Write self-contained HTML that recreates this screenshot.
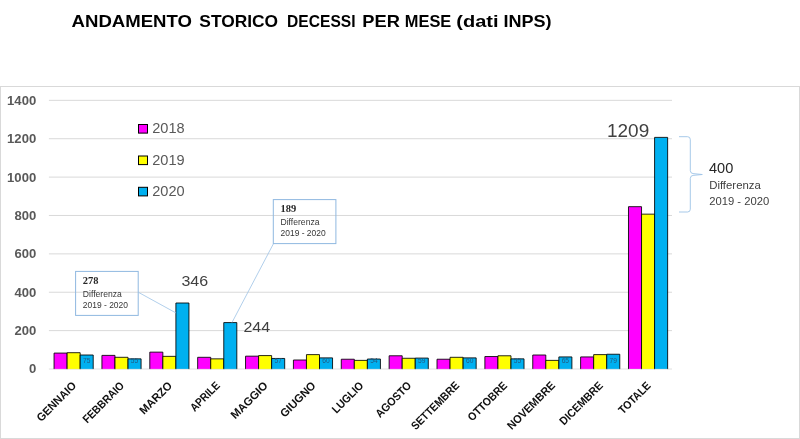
<!DOCTYPE html>
<html lang="it"><head><meta charset="utf-8"><title>Andamento storico decessi per mese</title>
<style>
html,body{margin:0;padding:0;background:#fff;}
body{width:800px;height:439px;overflow:hidden;font-family:"Liberation Sans",sans-serif;}
svg{display:block;}
text{font-family:"Liberation Sans",sans-serif;}
.ser{font-family:"Liberation Serif",serif;font-weight:bold;}
</style></head><body>
<svg width="800" height="439" viewBox="0 0 800 439">
<rect x="0" y="0" width="800" height="439" fill="#ffffff"/>

<text x="71.6" y="27.2" font-size="17.3" font-weight="bold" fill="#000" textLength="120.4" lengthAdjust="spacingAndGlyphs">ANDAMENTO</text>
<text x="199.3" y="27.2" font-size="17.3" font-weight="bold" fill="#000" textLength="78.8" lengthAdjust="spacingAndGlyphs">STORICO</text>
<text x="287.1" y="27.2" font-size="17.3" font-weight="bold" fill="#000" textLength="68.4" lengthAdjust="spacingAndGlyphs">DECESSI</text>
<text x="362.3" y="27.2" font-size="17.3" font-weight="bold" fill="#000" textLength="37.6" lengthAdjust="spacingAndGlyphs">PER</text>
<text x="404.8" y="27.2" font-size="17.3" font-weight="bold" fill="#000" textLength="46.5" lengthAdjust="spacingAndGlyphs">MESE</text>
<text x="456.3" y="27.2" font-size="17.3" font-weight="bold" fill="#000" textLength="42.3" lengthAdjust="spacingAndGlyphs">(dati</text>
<text x="503.5" y="27.2" font-size="17.3" font-weight="bold" fill="#000" textLength="48.1" lengthAdjust="spacingAndGlyphs">INPS)</text>
<rect x="0.5" y="86.5" width="799" height="352" fill="none" stroke="#d9d9d9" stroke-width="1"/>
<line x1="48.9" x2="672.0" y1="369.00" y2="369.00" stroke="#e6e6e6" stroke-width="1"/>
<text x="36.2" y="373.40" font-size="12.4" font-weight="bold" fill="#595959" text-anchor="end" textLength="7.3" lengthAdjust="spacingAndGlyphs">0</text>
<line x1="48.9" x2="672.0" y1="330.62" y2="330.62" stroke="#d9d9d9" stroke-width="1"/>
<text x="36.2" y="335.02" font-size="12.4" font-weight="bold" fill="#595959" text-anchor="end" textLength="21.8" lengthAdjust="spacingAndGlyphs">200</text>
<line x1="48.9" x2="672.0" y1="292.24" y2="292.24" stroke="#d9d9d9" stroke-width="1"/>
<text x="36.2" y="296.64" font-size="12.4" font-weight="bold" fill="#595959" text-anchor="end" textLength="21.8" lengthAdjust="spacingAndGlyphs">400</text>
<line x1="48.9" x2="672.0" y1="253.86" y2="253.86" stroke="#d9d9d9" stroke-width="1"/>
<text x="36.2" y="258.26" font-size="12.4" font-weight="bold" fill="#595959" text-anchor="end" textLength="21.8" lengthAdjust="spacingAndGlyphs">600</text>
<line x1="48.9" x2="672.0" y1="215.48" y2="215.48" stroke="#d9d9d9" stroke-width="1"/>
<text x="36.2" y="219.88" font-size="12.4" font-weight="bold" fill="#595959" text-anchor="end" textLength="21.8" lengthAdjust="spacingAndGlyphs">800</text>
<line x1="48.9" x2="672.0" y1="177.10" y2="177.10" stroke="#d9d9d9" stroke-width="1"/>
<text x="36.2" y="181.50" font-size="12.4" font-weight="bold" fill="#595959" text-anchor="end" textLength="29.1" lengthAdjust="spacingAndGlyphs">1000</text>
<line x1="48.9" x2="672.0" y1="138.72" y2="138.72" stroke="#d9d9d9" stroke-width="1"/>
<text x="36.2" y="143.12" font-size="12.4" font-weight="bold" fill="#595959" text-anchor="end" textLength="29.1" lengthAdjust="spacingAndGlyphs">1200</text>
<line x1="48.9" x2="672.0" y1="100.34" y2="100.34" stroke="#d9d9d9" stroke-width="1"/>
<text x="36.2" y="104.74" font-size="12.4" font-weight="bold" fill="#595959" text-anchor="end" textLength="29.1" lengthAdjust="spacingAndGlyphs">1400</text>
<path d="M54.06,369.10 V353.09 H67.11 V369.10" fill="#ff00ff" stroke="#000" stroke-width="0.85"/>
<path d="M67.11,369.10 V352.70 H80.16 V369.10" fill="#ffff00" stroke="#000" stroke-width="0.85"/>
<path d="M80.16,369.10 V355.01 H93.21 V369.10" fill="#00b0f0" stroke="#000" stroke-width="0.85"/>
<text x="86.68" y="363.1" font-size="7.2" fill="#215a80" text-anchor="middle" textLength="7.4" lengthAdjust="spacingAndGlyphs">75</text>
<path d="M101.93,369.10 V355.39 H114.98 V369.10" fill="#ff00ff" stroke="#000" stroke-width="0.85"/>
<path d="M114.98,369.10 V357.31 H128.03 V369.10" fill="#ffff00" stroke="#000" stroke-width="0.85"/>
<path d="M128.03,369.10 V358.85 H141.08 V369.10" fill="#00b0f0" stroke="#000" stroke-width="0.85"/>
<text x="134.55" y="363.1" font-size="7.2" fill="#215a80" text-anchor="middle" textLength="7.4" lengthAdjust="spacingAndGlyphs">55</text>
<path d="M149.80,369.10 V352.13 H162.85 V369.10" fill="#ff00ff" stroke="#000" stroke-width="0.85"/>
<path d="M162.85,369.10 V356.35 H175.90 V369.10" fill="#ffff00" stroke="#000" stroke-width="0.85"/>
<path d="M175.90,369.10 V303.00 H188.95 V369.10" fill="#00b0f0" stroke="#000" stroke-width="0.85"/>
<path d="M197.67,369.10 V357.31 H210.72 V369.10" fill="#ff00ff" stroke="#000" stroke-width="0.85"/>
<path d="M210.72,369.10 V358.85 H223.77 V369.10" fill="#ffff00" stroke="#000" stroke-width="0.85"/>
<path d="M223.77,369.10 V322.58 H236.82 V369.10" fill="#00b0f0" stroke="#000" stroke-width="0.85"/>
<path d="M245.54,369.10 V356.16 H258.59 V369.10" fill="#ff00ff" stroke="#000" stroke-width="0.85"/>
<path d="M258.59,369.10 V355.58 H271.64 V369.10" fill="#ffff00" stroke="#000" stroke-width="0.85"/>
<path d="M271.64,369.10 V358.46 H284.69 V369.10" fill="#00b0f0" stroke="#000" stroke-width="0.85"/>
<text x="278.16" y="363.1" font-size="7.2" fill="#215a80" text-anchor="middle" textLength="7.4" lengthAdjust="spacingAndGlyphs">57</text>
<path d="M293.41,369.10 V360.00 H306.46 V369.10" fill="#ff00ff" stroke="#000" stroke-width="0.85"/>
<path d="M306.46,369.10 V354.62 H319.51 V369.10" fill="#ffff00" stroke="#000" stroke-width="0.85"/>
<path d="M319.51,369.10 V357.89 H332.56 V369.10" fill="#00b0f0" stroke="#000" stroke-width="0.85"/>
<text x="326.03" y="363.1" font-size="7.2" fill="#215a80" text-anchor="middle" textLength="7.4" lengthAdjust="spacingAndGlyphs">60</text>
<path d="M341.27,369.10 V359.23 H354.32 V369.10" fill="#ff00ff" stroke="#000" stroke-width="0.85"/>
<path d="M354.32,369.10 V360.38 H367.38 V369.10" fill="#ffff00" stroke="#000" stroke-width="0.85"/>
<path d="M367.38,369.10 V359.04 H380.43 V369.10" fill="#00b0f0" stroke="#000" stroke-width="0.85"/>
<text x="373.90" y="363.1" font-size="7.2" fill="#215a80" text-anchor="middle" textLength="7.4" lengthAdjust="spacingAndGlyphs">54</text>
<path d="M389.14,369.10 V355.78 H402.19 V369.10" fill="#ff00ff" stroke="#000" stroke-width="0.85"/>
<path d="M402.19,369.10 V358.27 H415.24 V369.10" fill="#ffff00" stroke="#000" stroke-width="0.85"/>
<path d="M415.24,369.10 V358.08 H428.29 V369.10" fill="#00b0f0" stroke="#000" stroke-width="0.85"/>
<text x="421.77" y="363.1" font-size="7.2" fill="#215a80" text-anchor="middle" textLength="7.4" lengthAdjust="spacingAndGlyphs">59</text>
<path d="M437.01,369.10 V359.23 H450.06 V369.10" fill="#ff00ff" stroke="#000" stroke-width="0.85"/>
<path d="M450.06,369.10 V357.31 H463.11 V369.10" fill="#ffff00" stroke="#000" stroke-width="0.85"/>
<path d="M463.11,369.10 V357.89 H476.16 V369.10" fill="#00b0f0" stroke="#000" stroke-width="0.85"/>
<text x="469.64" y="363.1" font-size="7.2" fill="#215a80" text-anchor="middle" textLength="7.4" lengthAdjust="spacingAndGlyphs">60</text>
<path d="M484.88,369.10 V356.54 H497.93 V369.10" fill="#ff00ff" stroke="#000" stroke-width="0.85"/>
<path d="M497.93,369.10 V355.78 H510.98 V369.10" fill="#ffff00" stroke="#000" stroke-width="0.85"/>
<path d="M510.98,369.10 V358.85 H524.03 V369.10" fill="#00b0f0" stroke="#000" stroke-width="0.85"/>
<text x="517.51" y="363.1" font-size="7.2" fill="#215a80" text-anchor="middle" textLength="7.4" lengthAdjust="spacingAndGlyphs">55</text>
<path d="M532.75,369.10 V355.01 H545.80 V369.10" fill="#ff00ff" stroke="#000" stroke-width="0.85"/>
<path d="M545.80,369.10 V360.38 H558.85 V369.10" fill="#ffff00" stroke="#000" stroke-width="0.85"/>
<path d="M558.85,369.10 V356.93 H571.90 V369.10" fill="#00b0f0" stroke="#000" stroke-width="0.85"/>
<text x="565.38" y="363.1" font-size="7.2" fill="#215a80" text-anchor="middle" textLength="7.4" lengthAdjust="spacingAndGlyphs">65</text>
<path d="M580.62,369.10 V356.93 H593.67 V369.10" fill="#ff00ff" stroke="#000" stroke-width="0.85"/>
<path d="M593.67,369.10 V354.62 H606.72 V369.10" fill="#ffff00" stroke="#000" stroke-width="0.85"/>
<path d="M606.72,369.10 V354.24 H619.77 V369.10" fill="#00b0f0" stroke="#000" stroke-width="0.85"/>
<text x="613.25" y="363.1" font-size="7.2" fill="#215a80" text-anchor="middle" textLength="7.4" lengthAdjust="spacingAndGlyphs">79</text>
<path d="M628.49,369.10 V206.67 H641.54 V369.10" fill="#ff00ff" stroke="#000" stroke-width="0.85"/>
<path d="M641.54,369.10 V214.15 H654.59 V369.10" fill="#ffff00" stroke="#000" stroke-width="0.85"/>
<path d="M654.59,369.10 V137.39 H667.64 V369.10" fill="#00b0f0" stroke="#000" stroke-width="0.85"/>
<line x1="48.9" x2="672.0" y1="369.00" y2="369.00" stroke="#d9d9d9" stroke-width="1" opacity="0.25"/>
<text transform="translate(77.03,386.30) rotate(-45)" x="0" y="0" font-size="11.4" font-weight="bold" fill="#111" text-anchor="end" textLength="50.7" lengthAdjust="spacingAndGlyphs">GENNAIO</text>
<text transform="translate(124.90,386.30) rotate(-45)" x="0" y="0" font-size="11.4" font-weight="bold" fill="#111" text-anchor="end" textLength="53.1" lengthAdjust="spacingAndGlyphs">FEBBRAIO</text>
<text transform="translate(172.77,386.30) rotate(-45)" x="0" y="0" font-size="11.4" font-weight="bold" fill="#111" text-anchor="end" textLength="40.6" lengthAdjust="spacingAndGlyphs">MARZO</text>
<text transform="translate(220.64,386.30) rotate(-45)" x="0" y="0" font-size="11.4" font-weight="bold" fill="#111" text-anchor="end" textLength="36.6" lengthAdjust="spacingAndGlyphs">APRILE</text>
<text transform="translate(268.51,386.30) rotate(-45)" x="0" y="0" font-size="11.4" font-weight="bold" fill="#111" text-anchor="end" textLength="47.0" lengthAdjust="spacingAndGlyphs">MAGGIO</text>
<text transform="translate(316.38,386.30) rotate(-45)" x="0" y="0" font-size="11.4" font-weight="bold" fill="#111" text-anchor="end" textLength="44.8" lengthAdjust="spacingAndGlyphs">GIUGNO</text>
<text transform="translate(364.25,386.30) rotate(-45)" x="0" y="0" font-size="11.4" font-weight="bold" fill="#111" text-anchor="end" textLength="39.1" lengthAdjust="spacingAndGlyphs">LUGLIO</text>
<text transform="translate(412.12,386.30) rotate(-45)" x="0" y="0" font-size="11.4" font-weight="bold" fill="#111" text-anchor="end" textLength="45.3" lengthAdjust="spacingAndGlyphs">AGOSTO</text>
<text transform="translate(459.99,386.30) rotate(-45)" x="0" y="0" font-size="11.4" font-weight="bold" fill="#111" text-anchor="end" textLength="62.5" lengthAdjust="spacingAndGlyphs">SETTEMBRE</text>
<text transform="translate(507.86,386.30) rotate(-45)" x="0" y="0" font-size="11.4" font-weight="bold" fill="#111" text-anchor="end" textLength="50.2" lengthAdjust="spacingAndGlyphs">OTTOBRE</text>
<text transform="translate(555.73,386.30) rotate(-45)" x="0" y="0" font-size="11.4" font-weight="bold" fill="#111" text-anchor="end" textLength="62.2" lengthAdjust="spacingAndGlyphs">NOVEMBRE</text>
<text transform="translate(603.60,386.30) rotate(-45)" x="0" y="0" font-size="11.4" font-weight="bold" fill="#111" text-anchor="end" textLength="55.9" lengthAdjust="spacingAndGlyphs">DICEMBRE</text>
<text transform="translate(651.47,386.30) rotate(-45)" x="0" y="0" font-size="11.4" font-weight="bold" fill="#111" text-anchor="end" textLength="40.4" lengthAdjust="spacingAndGlyphs">TOTALE</text>
<rect x="138.5" y="124.5" width="9" height="8.6" fill="#ff00ff" stroke="#000" stroke-width="1"/>
<text x="152.2" y="133.4" font-size="14.6" fill="#595959" textLength="32.4" lengthAdjust="spacingAndGlyphs">2018</text>
<rect x="138.5" y="156.0" width="9" height="8.6" fill="#ffff00" stroke="#000" stroke-width="1"/>
<text x="152.2" y="164.9" font-size="14.6" fill="#595959" textLength="32.4" lengthAdjust="spacingAndGlyphs">2019</text>
<rect x="138.5" y="187.3" width="9" height="8.6" fill="#00b0f0" stroke="#000" stroke-width="1"/>
<text x="152.2" y="196.2" font-size="14.6" fill="#595959" textLength="32.4" lengthAdjust="spacingAndGlyphs">2020</text>
<text x="181.4" y="286.3" font-size="14.5" fill="#404040" textLength="26.7" lengthAdjust="spacingAndGlyphs">346</text>
<text x="243.4" y="331.9" font-size="14.5" fill="#404040" textLength="26.7" lengthAdjust="spacingAndGlyphs">244</text>
<text x="607" y="136.6" font-size="19.2" fill="#404040" textLength="42.2" lengthAdjust="spacingAndGlyphs">1209</text>
<rect x="75.6" y="271.4" width="62.6" height="44" fill="none" stroke="#8fb8e0" stroke-width="1"/>
<text class="ser" x="82.8" y="284.2" font-size="9.9" fill="#262626" textLength="15.7" lengthAdjust="spacingAndGlyphs">278</text>
<text x="82.8" y="296.5" font-size="8.7" fill="#363636" textLength="39" lengthAdjust="spacingAndGlyphs">Differenza</text>
<text x="82.8" y="308.0" font-size="8.7" fill="#363636" textLength="45.2" lengthAdjust="spacingAndGlyphs">2019 - 2020</text>
<rect x="273.3" y="199.6" width="62.6" height="44" fill="none" stroke="#8fb8e0" stroke-width="1"/>
<text class="ser" x="280.5" y="212.4" font-size="9.9" fill="#262626" textLength="15.7" lengthAdjust="spacingAndGlyphs">189</text>
<text x="280.5" y="224.7" font-size="8.7" fill="#363636" textLength="39" lengthAdjust="spacingAndGlyphs">Differenza</text>
<text x="280.5" y="236.2" font-size="8.7" fill="#363636" textLength="45.2" lengthAdjust="spacingAndGlyphs">2019 - 2020</text>
<line x1="138.2" y1="292.2" x2="175.9" y2="312.9" stroke="#9dc3e6" stroke-width="0.8"/>
<line x1="273.5" y1="243.6" x2="232" y2="322.5" stroke="#9dc3e6" stroke-width="0.8"/>
<path d="M679,136.7 H687.5 Q690.3,136.7 690.3,139.5 V170.5 Q690.3,173.3 693,173.6 L702.3,174.5 L693,175.4 Q690.3,175.7 690.3,178.5 V209.2 Q690.3,212 687.5,212 H679" fill="none" stroke="#9dc3e6" stroke-width="0.9"/>
<text x="709" y="173.1" font-size="14.1" fill="#262626" textLength="24.3" lengthAdjust="spacingAndGlyphs">400</text>
<text x="709.2" y="189.3" font-size="11" fill="#404040" textLength="51.6" lengthAdjust="spacingAndGlyphs">Differenza</text>
<text x="709.2" y="204.9" font-size="11" fill="#404040" textLength="60" lengthAdjust="spacingAndGlyphs">2019 - 2020</text>
</svg>
</body></html>
